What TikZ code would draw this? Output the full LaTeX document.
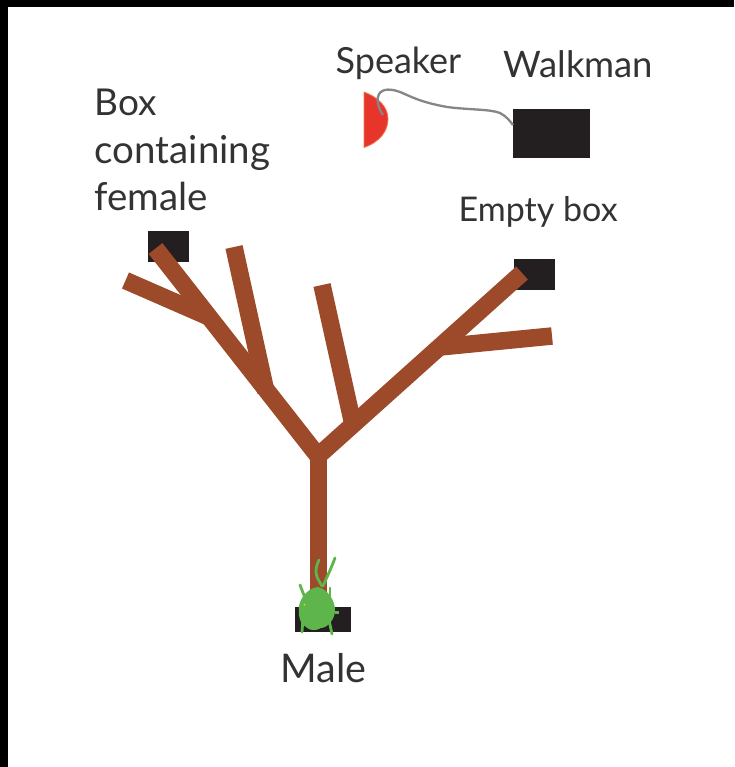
\documentclass[tikz,border=0pt]{standalone}
\usepackage{fontspec}
\setmainfont{Lato}
\definecolor{bark}{HTML}{9C4A29}
\definecolor{boxblack}{HTML}{231F20}
\definecolor{bug}{HTML}{5DB54B}
\definecolor{cone}{HTML}{E8352B}
\definecolor{coneedge}{HTML}{EE7D55}
\definecolor{wire}{HTML}{85858A}
\definecolor{ink}{HTML}{333335}
\tikzset{
  px/.style={x=1pt,y=-1pt},
  blackbox/.style={fill=boxblack,draw=none},
  limb/.style={draw=bark,line width=17.5pt,line cap=butt,line join=miter},
  leg/.style={draw=bug,line width=2.8pt,line cap=round},
  caption/.style={text=ink,inner sep=0pt,anchor=base west,align=left},
  size/.style={font=\fontsize{#1}{#1}\selectfont},
}
\begin{document}
\begin{tikzpicture}[px]
\useasboundingbox (0,0) rectangle (734,767);
% frame edges
\fill[black] (0,0) rectangle (734,767);
\fill[white] (8,7) rectangle (734,767);

% boxes
\fill[blackbox] (148,231) rectangle (189,262);
\fill[blackbox] (514,259) rectangle (555,290);
\fill[blackbox] (295,607) rectangle (351,632);
\fill[blackbox] (513,109) rectangle (590,158);

% tree
\draw[limb] (318.5,592) -- (318.5,450);
\draw[limb] (318,456) -- (155.5,248.5);
\draw[limb] (318,456) -- (522,273);
\draw[limb] (125.5,280.5) -- (209,317);
\draw[limb] (234,247) -- (266,392);
\draw[limb] (322,285) -- (352,420);
\draw[limb] (552,336) -- (440,347);

% speaker and its cable
\fill[cone,draw=coneedge,line width=0.8pt] (364,92)
  .. controls (380,98) and (388,108) .. (388,119)
  .. controls (388,131) and (380,142) .. (364,147.5) -- cycle;
\draw[wire,line width=2.3pt] (383,115) .. controls (378,108) and (376,98) .. (379,94)
  .. controls (383,88) and (392,89) .. (400,92)
  .. controls (412,97) and (420,102) .. (447,107)
  .. controls (470,110) and (490,109) .. (500,113)
  .. controls (506,116) and (510,121) .. (513,125);

% male insect
\draw[leg] (322,586) .. controls (317,578) and (313,572) .. (319,560);
\draw[leg] (323,586) .. controls (328,575) and (332,566) .. (335,558);
\draw[leg] (305,598) -- (300,585);
\draw[leg] (330,597) -- (330,588);
\draw[leg] (303,618) -- (302,632);
\draw[leg] (329,620) -- (332,634);
\fill[bug] (318,587) .. controls (327,589) and (335,600) .. (335,610)
  .. controls (335,620) and (327,628) .. (321,628)
  .. controls (316,631) and (310,631) .. (306,627)
  .. controls (300,624) and (298,616) .. (299,606)
  .. controls (301,596) and (309,588) .. (318,587) -- cycle;
\fill[bug] (335,611) rectangle (339,613.5);
\fill[yellow!70!bug] (304.5,604.5) circle[radius=1];

% labels
\node[caption,size=37] (boxlabel) at (94.5,116) {Box};
\node[caption,size=38.5] (containinglabel) at (94.5,164) {containing};
\node[caption,size=38.5] (femalelabel) at (94.5,211) {female};
\node[caption,size=36] (speakerlabel) at (335.5,74) {Speaker};
\node[caption,size=36.5] (walkmanlabel) at (503.5,78) {Walkman};
\node[caption,size=34] (emptylabel) at (458.5,222) {Empty box};
\node[caption,size=39.5] (malelabel) at (280.5,682) {Male};
\end{tikzpicture}
\end{document}
